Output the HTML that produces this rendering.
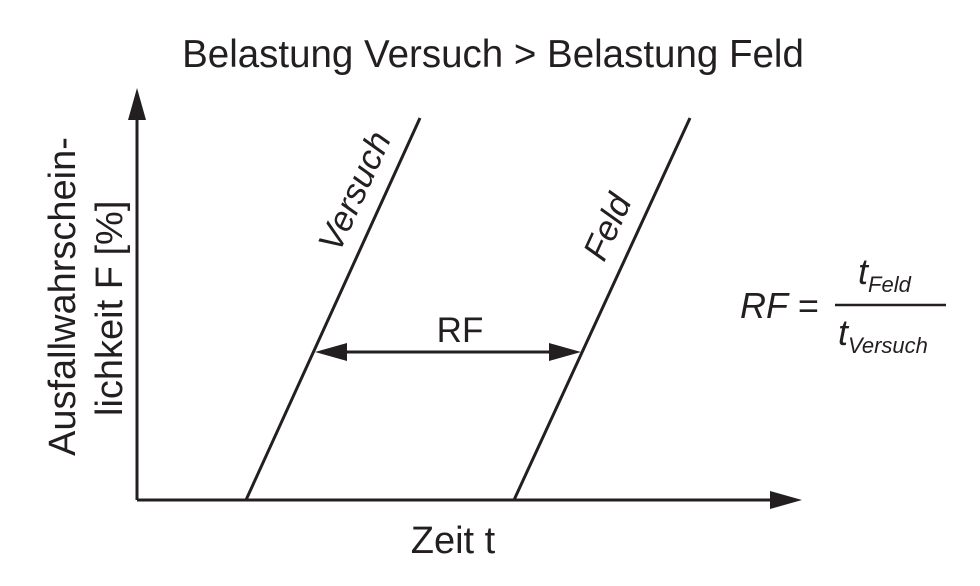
<!DOCTYPE html>
<html><head><style>body{margin:0;background:#fff}</style></head><body>
<svg width="980" height="581" xmlns="http://www.w3.org/2000/svg" font-family="Liberation Sans, Arial, sans-serif" fill="#231f20">
<text x="493" y="67" font-size="38.5" text-anchor="middle">Belastung Versuch &gt; Belastung Feld</text>
<line x1="137" y1="500" x2="137" y2="110" stroke="#231f20" stroke-width="3"/>
<polygon points="137,88 128,120 146,120"/>
<line x1="137" y1="500" x2="780" y2="500" stroke="#231f20" stroke-width="3"/>
<polygon points="802,500 770,491 770,509"/>
<line x1="246" y1="500" x2="420" y2="118" stroke="#231f20" stroke-width="3"/>
<line x1="514" y1="500" x2="690" y2="118" stroke="#231f20" stroke-width="3"/>
<line x1="340" y1="352" x2="556" y2="352" stroke="#231f20" stroke-width="3"/>
<polygon points="315,352 347,343 347,361"/>
<polygon points="581,352 549,343 549,361"/>
<text x="460" y="342" font-size="35" text-anchor="middle">RF</text>
<text transform="translate(339,254) rotate(-65.5)" font-size="35" font-style="italic">Versuch</text>
<text transform="translate(604,263) rotate(-65.5)" font-size="35" font-style="italic">Feld</text>
<text transform="translate(75,456) rotate(-90)" font-size="38">Ausfallwahrschein-</text>
<text transform="translate(122,416) rotate(-90)" font-size="38">lichkeit F [%]</text>
<text x="453" y="553" font-size="38" text-anchor="middle">Zeit t</text>
<text x="740" y="318" font-size="36" font-style="italic">RF =</text>
<line x1="835" y1="305" x2="946" y2="305" stroke="#231f20" stroke-width="2.5"/>
<text x="858" y="284" font-size="36" font-style="italic">t<tspan font-size="22" dy="8">Feld</tspan></text>
<text x="838" y="345" font-size="36" font-style="italic">t<tspan font-size="22" dy="8">Versuch</tspan></text>
</svg>
</body></html>
